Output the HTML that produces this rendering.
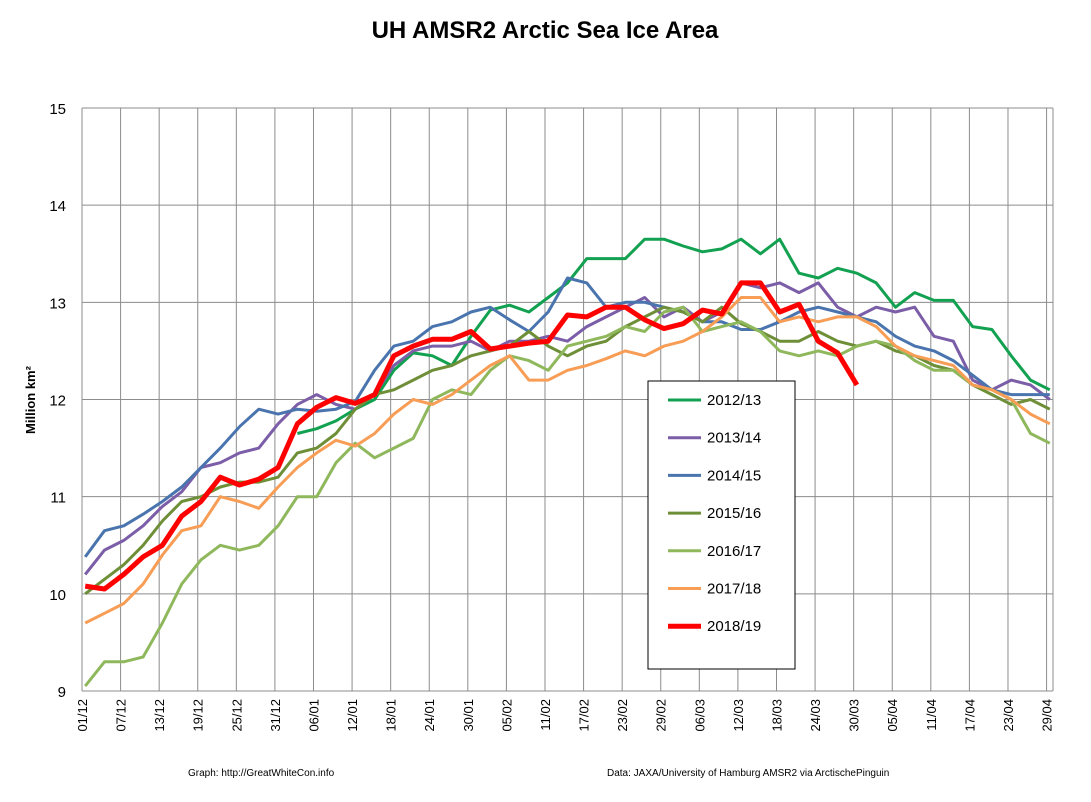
<!DOCTYPE html>
<html><head><meta charset="utf-8"><style>
body{margin:0;background:#fff;font-family:"Liberation Sans",sans-serif}
svg text{font-family:"Liberation Sans",sans-serif}
</style></head><body>
<svg id="c" width="1091" height="797" xmlns="http://www.w3.org/2000/svg">
<rect width="1091" height="797" fill="#fff"/>
<text x="545" y="38" text-anchor="middle" font-size="24" font-weight="bold">UH AMSR2 Arctic Sea Ice Area</text>
<text transform="translate(35,400) rotate(-90)" text-anchor="middle" font-size="13" font-weight="bold">Million km²</text>
<g id="grid"></g><g id="series"></g>
<text x="188" y="776" font-size="10">Graph: http://GreatWhiteCon.info</text>
<text x="607" y="776" font-size="10">Data:  JAXA/University of Hamburg AMSR2  via  ArctischePinguin</text>
<g id="legend"></g>
</svg>
<script>
const xLabels=["01/12","07/12","13/12","19/12","25/12","31/12","06/01","12/01","18/01","24/01","30/01","05/02","11/02","17/02","23/02","29/02","06/03","12/03","18/03","24/03","30/03","05/04","11/04","17/04","23/04","29/04"];
const yTicks=[9,10,11,12,13,14,15];
const seriesNames=["2012/13","2013/14","2014/15","2015/16","2016/17","2017/18","2018/19"];
const startDay=[33,0,0,0,0,0,0];
const s2012=[11.65,11.7,11.78,11.9,12.0,12.3,12.48,12.45,12.35,12.65,12.92,12.97,12.9,13.05,13.2,13.45,13.45,13.45,13.65,13.65,13.58,13.52,13.55,13.65,13.5,13.65,13.3,13.25,13.35,13.3,13.2,12.95,13.1,13.02,13.02,12.75,12.72,12.45,12.2,12.1];
const s2013=[10.2,10.45,10.55,10.7,10.9,11.05,11.3,11.35,11.45,11.5,11.75,11.95,12.05,11.95,11.9,12.05,12.35,12.5,12.55,12.55,12.6,12.5,12.6,12.6,12.65,12.6,12.75,12.85,12.95,13.05,12.85,12.95,12.8,12.9,13.2,13.15,13.2,13.1,13.2,12.95,12.85,12.95,12.9,12.95,12.65,12.6,12.2,12.1,12.2,12.15,12.0];
const s2014=[10.38,10.65,10.7,10.82,10.95,11.1,11.3,11.5,11.72,11.9,11.85,11.9,11.88,11.9,11.98,12.3,12.55,12.6,12.75,12.8,12.9,12.95,12.82,12.7,12.9,13.25,13.2,12.95,13.0,13.0,12.95,12.9,12.8,12.8,12.72,12.72,12.8,12.9,12.95,12.9,12.85,12.8,12.65,12.55,12.5,12.4,12.25,12.1,12.05,12.05,12.05];
const s2015=[10.0,10.15,10.3,10.5,10.75,10.95,11.0,11.1,11.15,11.15,11.2,11.45,11.5,11.65,11.9,12.05,12.1,12.2,12.3,12.35,12.45,12.5,12.55,12.7,12.55,12.45,12.55,12.6,12.75,12.85,12.95,12.9,12.8,12.95,12.78,12.7,12.6,12.6,12.7,12.6,12.55,12.6,12.5,12.45,12.35,12.3,12.15,12.05,11.95,12.0,11.9];
const s2016=[9.05,9.3,9.3,9.35,9.7,10.1,10.35,10.5,10.45,10.5,10.7,11.0,11.0,11.35,11.55,11.4,11.5,11.6,12.0,12.1,12.05,12.3,12.45,12.4,12.3,12.55,12.6,12.65,12.75,12.7,12.9,12.95,12.7,12.75,12.8,12.7,12.5,12.45,12.5,12.45,12.55,12.6,12.55,12.4,12.3,12.3,12.15,12.1,12.0,11.65,11.55];
const s2017=[9.7,9.8,9.9,10.1,10.4,10.65,10.7,11.0,10.95,10.88,11.1,11.3,11.45,11.58,11.52,11.65,11.85,12.0,11.95,12.05,12.2,12.35,12.45,12.2,12.2,12.3,12.35,12.42,12.5,12.45,12.55,12.6,12.7,12.85,13.05,13.05,12.8,12.85,12.8,12.85,12.85,12.75,12.55,12.45,12.4,12.35,12.15,12.1,12.0,11.85,11.75];
const s2018=[10.08,10.05,10.2,10.38,10.5,10.8,10.95,11.2,11.12,11.18,11.3,11.75,11.92,12.02,11.96,12.05,12.45,12.55,12.62,12.62,12.7,12.52,12.55,12.58,12.6,12.87,12.85,12.95,12.95,12.82,12.73,12.78,12.92,12.88,13.2,13.2,12.9,12.98,12.6,12.48,12.15];
const seriesValues=[s2012,s2013,s2014,s2015,s2016,s2017,s2018];
const colors=["#12a150","#7b5ea7","#4a74ae","#6e8f37","#8fb85c","#f79d55","#ff0000"];
const widths=[3,3,3,3,3,3,5];
const NS="http://www.w3.org/2000/svg";
const L=82,R=1053,T=108,B=691;
const pxDay=(R-L)/151;
const xs=d=>L+pxDay*(d+0.5);
const ys=v=>B-(v-9)*(B-T)/6;
function mk(tag,attrs,parent){const e=document.createElementNS(NS,tag);for(const k in attrs)e.setAttribute(k,attrs[k]);parent.appendChild(e);return e;}
const grid=document.getElementById('grid');
yTicks.forEach(t=>{
 const l=mk('line',{x1:L,x2:R,y1:ys(t),y2:ys(t),stroke:'#8c8c8c','stroke-width':1},grid);
 
 
 const tx=mk('text',{x:66,y:ys(t)+6,'text-anchor':'end','font-size':15},grid);
 tx.textContent=t;
 
 
});
xLabels.forEach((lab,i)=>{
 const gx=L+pxDay*6*i;
 const l=mk('line',{x1:gx,x2:gx,y1:T,y2:B,stroke:'#8c8c8c','stroke-width':1},grid);
 
 
 const tx=mk('text',{transform:`translate(${gx+5},${B+8}) rotate(-90)`,'text-anchor':'end','font-size':13},grid);
 tx.textContent=lab;
 
 
});
const rl=mk('line',{x1:R,x2:R,y1:T,y2:B,stroke:'#8c8c8c'},grid);


const sg=document.getElementById('series');
seriesValues.forEach((vals,si)=>{
 const pts=vals.map((v,i)=>xs(startDay[si]+3*i).toFixed(1)+','+ys(v).toFixed(1)).join(' ');
 const p=mk('polyline',{points:pts,fill:'none',stroke:colors[si],'stroke-width':widths[si],'stroke-linejoin':'round'},sg);
 
 
});
const lg=document.getElementById('legend');
const box=mk('rect',{x:648,y:381,width:147,height:288,fill:'#fff',stroke:'#000','stroke-width':1},lg);


seriesNames.forEach((n,i)=>{
 const y=400+i*37.7;
 const l=mk('line',{x1:668,x2:701,y1:y,y2:y,stroke:colors[i],'stroke-width':widths[i]},lg);
 
 
 const t=mk('text',{x:707,y:y+5,'font-size':15},lg);
 t.textContent=n;
 
 
});
</script>
</body></html>
